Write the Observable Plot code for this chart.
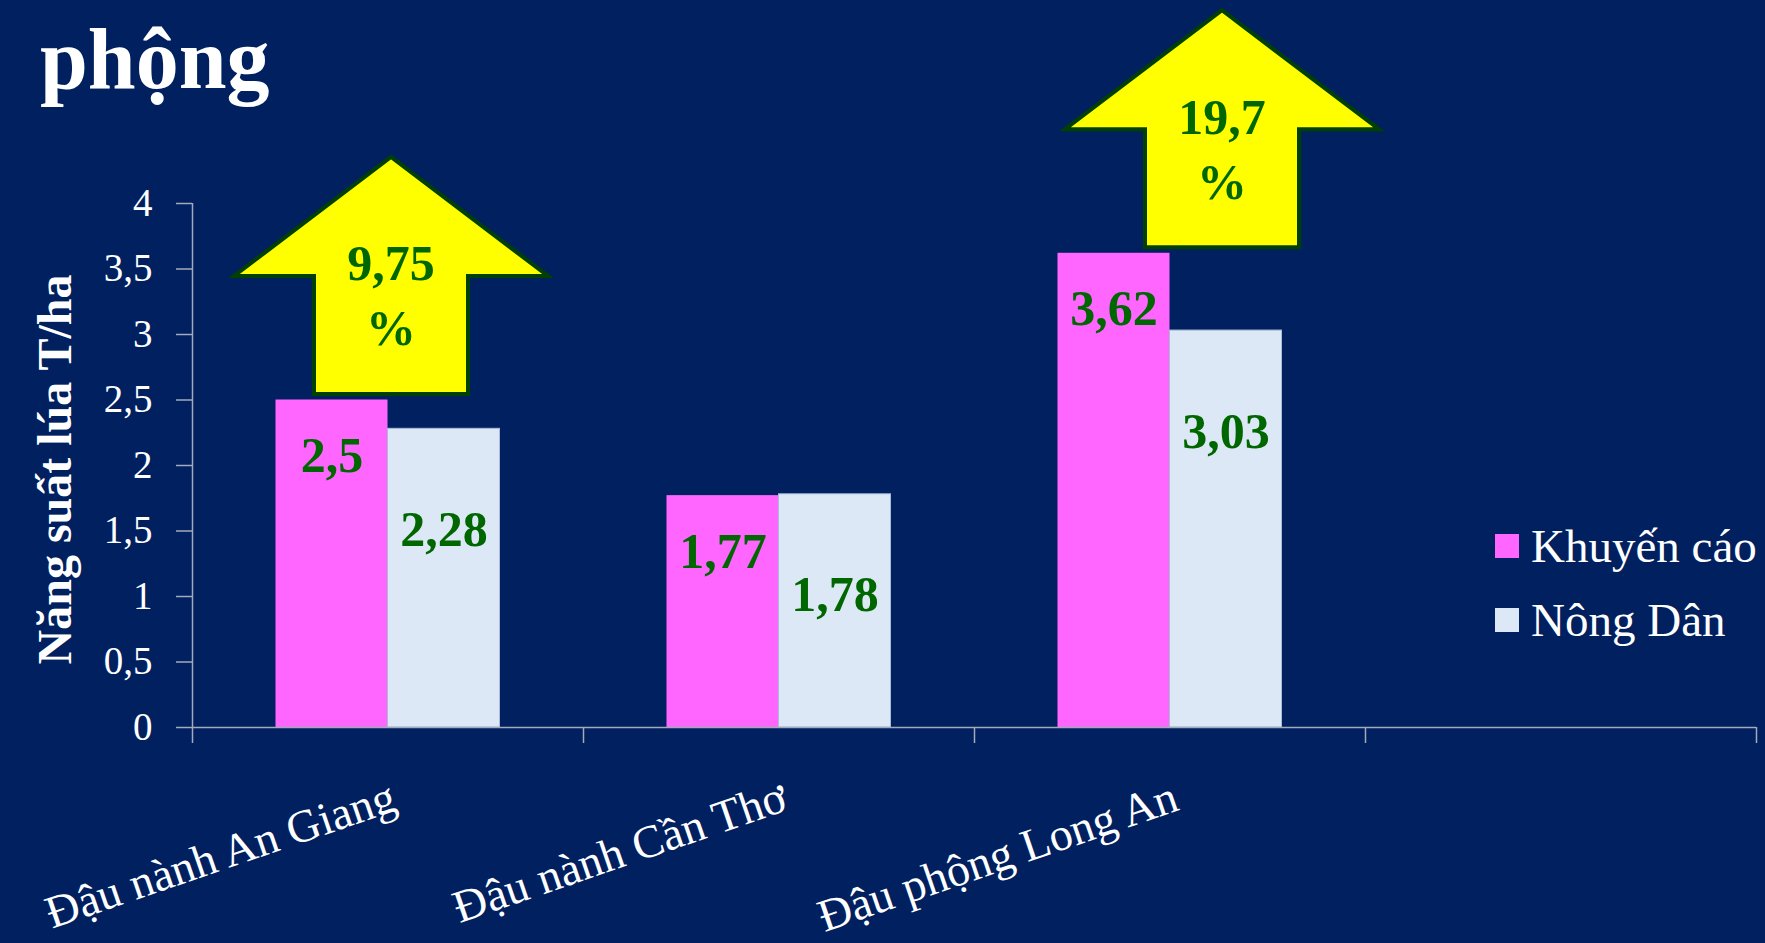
<!DOCTYPE html>
<html>
<head>
<meta charset="utf-8">
<script src="https://cdn.jsdelivr.net/npm/d3@7"></script>
<script src="https://cdn.jsdelivr.net/npm/@observablehq/plot@0.6"></script>
<style>
  html, body { margin: 0; padding: 0; background: #002060; }
  #wrap { position: relative; width: 1765px; height: 943px; overflow: hidden; }
  #title { position: absolute; left: 40px; top: 16px; font: bold 86px "Liberation Serif", serif; line-height: 1; color: #ffffff; }
  #legend { position: absolute; left: 1495px; top: 509px; font-family: "Liberation Serif", serif; font-size: 47px; color: #ffffff; }
  #legend .row { display: flex; align-items: center; height: 74px; white-space: nowrap; }
  #legend .sw { width: 24px; height: 24px; margin-right: 12px; flex: none; }
</style>
</head>
<body>
<div id="wrap">
  <div id="chart"></div>
  <div id="title">phộng</div>
  <div id="legend"></div>
</div>
<script>
// ---- data ----
const categories = ["Đậu nành An Giang", "Đậu nành Cần Thơ", "Đậu phộng Long An"];
const seriesNames = ["Khuyến cáo", "Nông Dân"];
const khuyenCao = [2.5, 1.77, 3.62];
const nongDan = [2.28, 1.78, 3.03];
const yTicks = [0, 0.5, 1, 1.5, 2, 2.5, 3, 3.5, 4];
const arrowCategories = ["Đậu nành An Giang", "Đậu phộng Long An"];
const arrowLabels = ["9,75", "19,7"];
const yTitle = "Năng suất lúa T/ha";
const seriesColors = ["#FF66FF", "#DCE8F5"];

// ---- layout ----
const W = 1765, H = 943;
const mL = 192, mR = 9, mT = 203, mB = 216;
const xDomain = [...categories, " "];           // Excel chart keeps an empty 4th slot
const bw = (W - mL - mR) / xDomain.length;      // band width
const barW = 112;
const side = (bw - 2 * barW) / 2;
const axisColor = "#A3AABB";
const green = "#006600";
const font = '"Liberation Serif", serif';
const fmt = v => String(v).replace(".", ",");

const rowsK = categories.map((c, i) => ({category: c, value: khuyenCao[i]}));
const rowsN = categories.map((c, i) => ({category: c, value: nongDan[i]}));
const arrows = arrowCategories.map((c, i) => ({category: c, value: khuyenCao[categories.indexOf(c)], label: arrowLabels[i]}));

const arrowSymbol = {
  draw(ctx) {
    ctx.moveTo(-77, -6);
    ctx.lineTo(77, -6);
    ctx.lineTo(77, -124);
    ctx.lineTo(157, -124);
    ctx.lineTo(0, -243);
    ctx.lineTo(-157, -124);
    ctx.lineTo(-77, -124);
    ctx.closePath();
  }
};

const arrowMarks = arrows.flatMap((a, i) => {
  const shift = i === 0 ? 3 : 52;
  return [
    Plot.dot([a], {x: "category", y: "value", symbol: arrowSymbol, fill: "#FFFF00", stroke: "#004000", strokeWidth: 4, strokeLinejoin: "miter", dx: shift}),
    Plot.text([a], {x: "category", y: "value", text: d => d.label + "\n%", dx: shift, dy: -108, lineAnchor: "middle", lineHeight: 1.3, fontSize: 50, fontWeight: "bold", fontFamily: font, fill: green})
  ];
});

const chart = Plot.plot({
  width: W,
  height: H,
  marginLeft: mL,
  marginRight: mR,
  marginTop: mT,
  marginBottom: mB,
  style: {background: "transparent", color: "white", fontFamily: font, overflow: "visible"},
  x: {domain: xDomain, padding: 0, axis: null},
  y: {domain: [0, 4]},
  marks: [
    Plot.barY(rowsK, {x: "category", y: "value", fill: seriesColors[0], insetLeft: side, insetRight: bw - side - barW}),
    Plot.barY(rowsN, {x: "category", y: "value", fill: seriesColors[1], stroke: "#A8BCDA", strokeWidth: 1, insetLeft: side + barW, insetRight: side}),
    Plot.ruleY([0], {stroke: axisColor, strokeWidth: 1.5}),
    Plot.ruleX([xDomain[0]], {x: d => d, dx: -bw / 2, stroke: axisColor, strokeWidth: 1.5, insetBottom: -16}),
    Plot.ruleX(xDomain.slice(1), {x: d => d, y1: 0, y2: 0, dx: -bw / 2, stroke: axisColor, strokeWidth: 1.5, insetBottom: -16}),
    Plot.ruleX([xDomain[xDomain.length - 1]], {x: d => d, y1: 0, y2: 0, dx: bw / 2, stroke: axisColor, strokeWidth: 1.5, insetBottom: -16}),
    Plot.axisY({ticks: yTicks, tickSize: 16, tickFormat: () => "", stroke: axisColor, strokeWidth: 1.5, label: null}),
    Plot.axisY({ticks: yTicks, tickSize: 0, tickPadding: 40, tickFormat: fmt, fontSize: 39, fontFamily: font, fill: "white", label: null}),
    Plot.text([yTitle], {frameAnchor: "left", rotate: -90, dx: -137, dy: 4, fontSize: 48, fontWeight: "bold", fontFamily: font, fill: "white", textAnchor: "middle", lineAnchor: "middle"}),
    Plot.text(categories, {x: d => d, frameAnchor: "bottom", dy: 68, dx: 6, rotate: -19, textAnchor: "end", lineAnchor: "middle", fontSize: 46, fontFamily: font, fill: "white"}),
    Plot.text(rowsK, {x: "category", y: "value", text: d => fmt(d.value), dx: -barW / 2, dy: 56, lineAnchor: "middle", fontSize: 50, fontWeight: "bold", fontFamily: font, fill: green}),
    Plot.text(rowsN, {x: "category", y: "value", text: d => fmt(d.value), dx: barW / 2, dy: 101, lineAnchor: "middle", fontSize: 50, fontWeight: "bold", fontFamily: font, fill: green}),
    ...arrowMarks
  ]
});
document.getElementById("chart").appendChild(chart);

// ---- legend ----
const legend = d3.select("#legend");
seriesNames.forEach((name, i) => {
  const row = legend.append("div").attr("class", "row");
  row.append("div").attr("class", "sw").style("background", seriesColors[i]);
  row.append("span").text(name);
});
</script>
</body>
</html>
